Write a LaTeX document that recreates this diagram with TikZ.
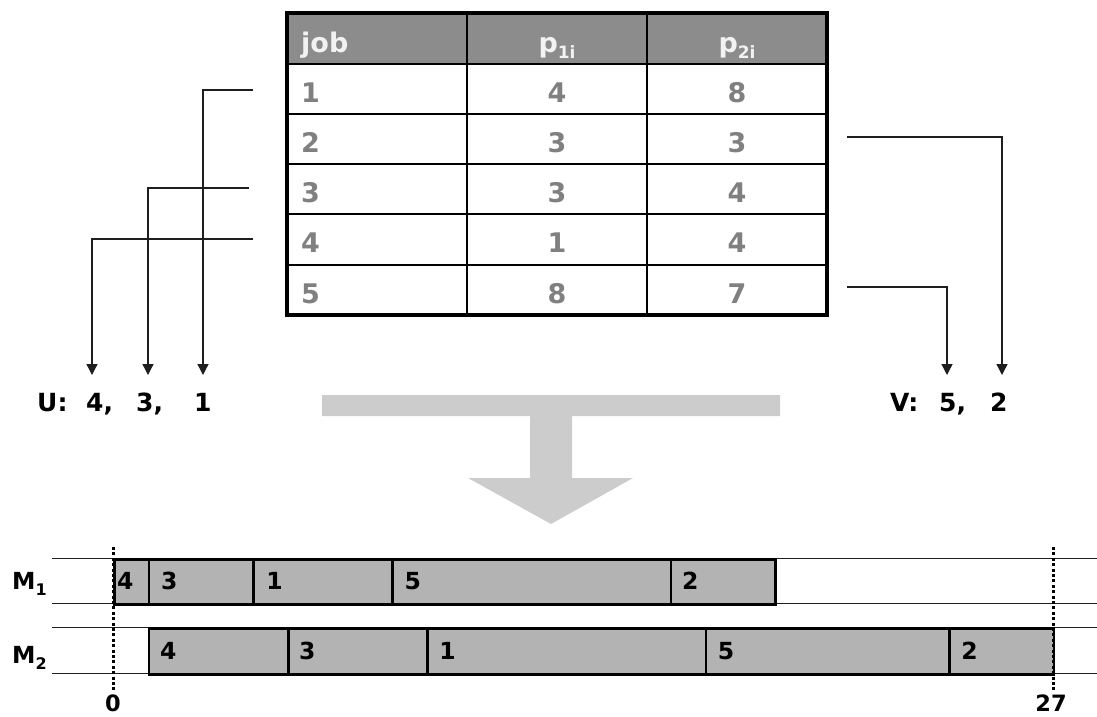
\documentclass[tikz,border=0pt]{standalone}
\usepackage{fontspec}
\setmainfont{DejaVu Sans}
\usetikzlibrary{arrows.meta}

\definecolor{hdrgray}{RGB}{140,140,140}
\definecolor{celltext}{RGB}{128,128,128}
\definecolor{hdrtext}{RGB}{242,242,242}
\definecolor{bigarrow}{RGB}{204,204,204}
\definecolor{jobfill}{RGB}{179,179,179}
\definecolor{lineink}{RGB}{30,30,30}

% lowered small text used for subscripts
\newcommand\lowsub[3]{\raisebox{-#2pt}{\fontsize{#1}{#1}\selectfont #3}}

\begin{document}
\begin{tikzpicture}[x=1pt,y=-1pt,
  gridline/.style={line width=1.8pt,draw=black},
  tableframe/.style={line width=3.2pt,draw=black},
  hdrtxt/.style={font=\fontsize{27}{31}\selectfont\bfseries,text=hdrtext,inner sep=0pt},
  celltxt/.style={font=\fontsize{27}{31}\selectfont\bfseries,text=celltext,inner sep=0pt},
  conn/.style={line width=1.3pt,draw=lineink,-{Triangle[length=11pt,width=11pt]}},
  seqtxt/.style={font=\fontsize{25}{29}\selectfont\bfseries,text=black,inner sep=0pt,anchor=base west},
  track/.style={line width=1pt,draw=lineink},
  jobbox/.style={draw=black,line width=2.6pt,fill=jobfill,inner sep=0pt,anchor=north west},
  jobtxt/.style={font=\fontsize{23.5}{27}\selectfont\bfseries,text=black,inner sep=0pt,anchor=base west},
  mtxt/.style={font=\fontsize{23.5}{27}\selectfont\bfseries,text=black,inner sep=0pt,anchor=base west},
  timeline/.style={line width=3pt,draw=black,dash pattern=on 3pt off 2.4pt},
  timetxt/.style={font=\fontsize{22.5}{26}\selectfont\bfseries,text=black,inner sep=0pt,anchor=base}
]
\useasboundingbox (0,0) rectangle (1097,716);

% ---------- processing-time table ----------
\fill[hdrgray] (287,13) rectangle (827,64);
\foreach \y in {64,114,164,214,265}
  \draw[gridline] (287,\y) -- (827,\y);
\foreach \x in {467,647}
  \draw[gridline] (\x,13) -- (\x,315);
\draw[tableframe] (287,13) rectangle (827,315);

\node[hdrtxt,anchor=base west] (hjob) at (301,52) {job};
\node[hdrtxt,anchor=base] (hp1) at (557,52) {p\lowsub{17}{6}{1i}};
\node[hdrtxt,anchor=base] (hp2) at (737,52) {p\lowsub{17}{6}{2i}};

\foreach \j/\a/\b/\yb in {1/4/8/102, 2/3/3/152, 3/3/4/202, 4/1/4/252, 5/8/7/303} {
  \node[celltxt,anchor=base west] (job\j) at (301,\yb) {\j};
  \node[celltxt,anchor=base] (pa\j) at (557,\yb) {\a};
  \node[celltxt,anchor=base] (pb\j) at (737,\yb) {\b};
}

% ---------- Johnson split: U (p1 < p2) and V (p1 >= p2) ----------
\coordinate (s1) at (253,90);
\coordinate (s3) at (249,188);
\coordinate (s4) at (253,239);
\coordinate (u1) at (203,375);
\coordinate (u3) at (148,375);
\coordinate (u4) at (92,375);
\draw[conn] (s1) -| (u1);
\draw[conn] (s3) -| (u3);
\draw[conn] (s4) -| (u4);

\coordinate (s2) at (847,137);
\coordinate (s5) at (847,287);
\coordinate (v2) at (1002,375);
\coordinate (v5) at (947,375);
\draw[conn] (s2) -| (v2);
\draw[conn] (s5) -| (v5);

\node[seqtxt] (ulbl) at (37,411) {U:};
\node[seqtxt] (useq4) at (86,411) {4,};
\node[seqtxt] (useq3) at (136,411) {3,};
\node[seqtxt] (useq1) at (194,411) {1};

\node[seqtxt] (vlbl) at (890,411) {V:};
\node[seqtxt] (vseq5) at (939,411) {5,};
\node[seqtxt] (vseq2) at (990,411) {2};

% ---------- big arrow towards the schedule ----------
\fill[bigarrow] (322,395) -- (780,395) -- (780,416) -- (572,416) -- (572,478)
  -- (633,478) -- (551,524) -- (468,478) -- (530,478) -- (530,416)
  -- (322,416) -- cycle;

% ---------- Gantt chart ----------
\foreach \y in {558,603,627,673}
  \draw[track] (52,\y) -- (1097,\y);

\node[mtxt] (m1) at (12,589) {M\lowsub{16}{6}{1}};
\node[mtxt] (m2) at (12,663) {M\lowsub{16}{6}{2}};

% machine 1: start x, width, job, label padding
\foreach \x/\w/\j/\p in {113/34.8/4/4, 147.8/104.4/3/13, 252.2/139.2/1/14,
                         391.4/278.4/5/13, 669.8/104.4/2/12} {
  \node[jobbox,minimum width=\w pt,minimum height=45pt] (ma\j) at (\x,558) {};
  \node[jobtxt] at (\x+\p,589) {\j};
}
% machine 2
\foreach \x/\w/\j/\p in {147.8/139.2/4/12, 287/139.2/3/12, 426.2/278.4/1/13,
                         704.6/243.6/5/13, 948.2/104.4/2/13} {
  \node[jobbox,minimum width=\w pt,minimum height=46pt] (mb\j) at (\x,627) {};
  \node[jobtxt] at (\x+\p,659) {\j};
}

% time axis marks
\node[timetxt] (t0) at (113,711) {0};
\node[timetxt] (t27) at (1051,711) {27};
\coordinate (t0top) at (113,547);
\coordinate (t0bot) at (113,692);
\coordinate (t27top) at (1053,547);
\coordinate (t27bot) at (1053,692);
\draw[timeline] (t0top) -- (t0bot);
\draw[timeline] (t27top) -- (t27bot);
\end{tikzpicture}
\end{document}
